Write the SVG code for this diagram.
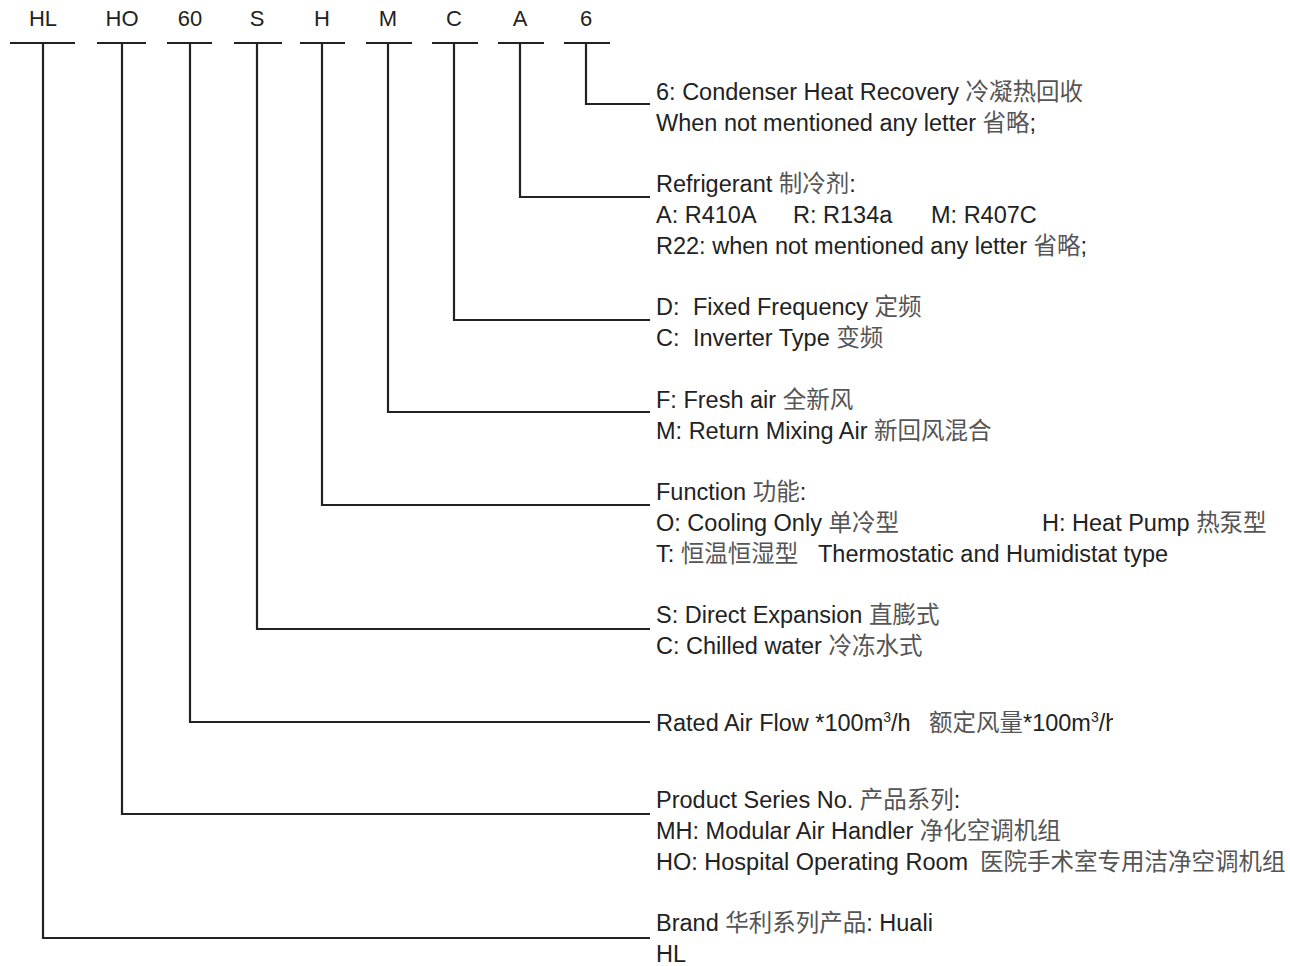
<svg xmlns="http://www.w3.org/2000/svg" width="1290" height="966" viewBox="0 0 1290 966">
<style>
.code{font-family:"Liberation Sans",Arial,sans-serif;font-size:22px;fill:#222;text-anchor:middle}
.t{font-family:"Liberation Sans",Arial,"Noto Sans CJK SC",sans-serif;font-size:23.5px;fill:#222}
.cn{font-family:"Noto Sans CJK SC","Liberation Sans",sans-serif;fill:#555;font-size:23.5px}
.sup{font-size:14px}
.bar{stroke:#222;stroke-width:2.2;fill:none}
.conn{stroke:#222;stroke-width:2.2;fill:none}
</style>
<defs>
<clipPath id="clipRated"><rect x="640" y="690" width="473" height="60"/></clipPath>
</defs>
<rect width="1290" height="966" fill="#fff"/>

<g id="codes">
<g id="code-HL"><text class="code" x="43" y="26">HL</text><line class="bar" x1="10" y1="43" x2="75" y2="43"/></g>
<g id="code-HO"><text class="code" x="122" y="26">HO</text><line class="bar" x1="97" y1="43" x2="146" y2="43"/></g>
<g id="code-60"><text class="code" x="190" y="26">60</text><line class="bar" x1="167" y1="43" x2="212" y2="43"/></g>
<g id="code-S"><text class="code" x="257" y="26">S</text><line class="bar" x1="234" y1="43" x2="282" y2="43"/></g>
<g id="code-H"><text class="code" x="322" y="26">H</text><line class="bar" x1="300" y1="43" x2="345" y2="43"/></g>
<g id="code-M"><text class="code" x="388" y="26">M</text><line class="bar" x1="366" y1="43" x2="412" y2="43"/></g>
<g id="code-C"><text class="code" x="454" y="26">C</text><line class="bar" x1="432" y1="43" x2="478" y2="43"/></g>
<g id="code-A"><text class="code" x="520" y="26">A</text><line class="bar" x1="498" y1="43" x2="544" y2="43"/></g>
<g id="code-6"><text class="code" x="586" y="26">6</text><line class="bar" x1="564" y1="43" x2="610" y2="43"/></g>
</g>

<g id="connectors">
<path class="conn" d="M586 43 V104 H650"/>
<path class="conn" d="M520 43 V197 H650"/>
<path class="conn" d="M454 43 V320 H650"/>
<path class="conn" d="M388 43 V412 H650"/>
<path class="conn" d="M322 43 V505 H650"/>
<path class="conn" d="M257 43 V629 H650"/>
<path class="conn" d="M190 43 V722 H650"/>
<path class="conn" d="M122 43 V814 H650"/>
<path class="conn" d="M43 43 V938 H650"/>
</g>

<g id="desc-6">
<text class="t" x="656" y="100">6: Condenser Heat Recovery <tspan class="cn">冷凝热回收</tspan></text>
<text class="t" x="656" y="131">When not mentioned any letter <tspan class="cn">省略</tspan>;</text>
</g>
<g id="desc-A">
<text class="t" x="656" y="192">Refrigerant <tspan class="cn">制冷剂</tspan>:</text>
<text class="t" x="656" y="223">A: R410A<tspan x="793">R: R134a</tspan><tspan x="931">M: R407C</tspan></text>
<text class="t" x="656" y="254">R22: when not mentioned any letter <tspan class="cn">省略</tspan>;</text>
</g>
<g id="desc-C">
<text class="t" x="656" y="315">D:<tspan x="693">Fixed Frequency </tspan><tspan class="cn">定频</tspan></text>
<text class="t" x="656" y="346">C:<tspan x="693">Inverter Type </tspan><tspan class="cn">变频</tspan></text>
</g>
<g id="desc-M">
<text class="t" x="656" y="408">F: Fresh air <tspan class="cn">全新风</tspan></text>
<text class="t" x="656" y="439">M: Return Mixing Air <tspan class="cn">新回风混合</tspan></text>
</g>
<g id="desc-H">
<text class="t" x="656" y="500">Function <tspan class="cn">功能</tspan>:</text>
<text class="t" x="656" y="531">O: Cooling Only <tspan class="cn">单冷型</tspan><tspan x="1042">H: Heat Pump </tspan><tspan class="cn">热泵型</tspan></text>
<text class="t" x="656" y="562">T: <tspan class="cn">恒温恒湿型</tspan><tspan x="818">Thermostatic and Humidistat type</tspan></text>
</g>
<g id="desc-S">
<text class="t" x="656" y="623">S: Direct Expansion <tspan class="cn">直膨式</tspan></text>
<text class="t" x="656" y="654">C: Chilled water <tspan class="cn">冷冻水式</tspan></text>
</g>
<g id="desc-60" clip-path="url(#clipRated)">
<text class="t" x="656" y="731">Rated Air Flow *100m<tspan class="sup" dy="-9">3</tspan><tspan dy="9">/h</tspan><tspan x="929" class="cn">额定风量</tspan>*100m<tspan class="sup" dy="-9">3</tspan><tspan dy="9">/h</tspan></text>
</g>
<g id="desc-HO">
<text class="t" x="656" y="808">Product Series No. <tspan class="cn">产品系列</tspan>:</text>
<text class="t" x="656" y="839">MH: Modular Air Handler <tspan class="cn">净化空调机组</tspan></text>
<text class="t" x="656" y="870">HO: Hospital Operating Room<tspan x="980" class="cn">医院手术室专用洁净空调机组</tspan></text>
</g>
<g id="desc-HL">
<text class="t" x="656" y="931">Brand <tspan class="cn">华利系列产品</tspan>: Huali</text>
<text class="t" x="656" y="962">HL</text>
</g>
</svg>
